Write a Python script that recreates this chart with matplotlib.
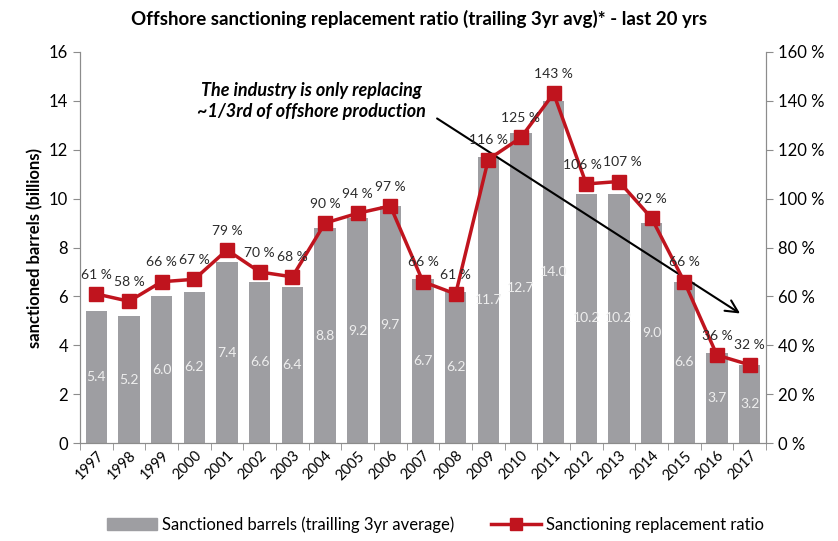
import matplotlib.pyplot as plt
import numpy as np
from matplotlib.lines import Line2D
from matplotlib.patches import Patch

plt.rcParams['font.family'] = ['Lato', 'DejaVu Sans']

anos = ['1997', '1998', '1999', '2000', '2001', '2002', '2003', '2004', '2005', '2006', '2007',
        '2008', '2009', '2010', '2011', '2012', '2013', '2014', '2015', '2016', '2017']
barris = [5.4, 5.2, 6.0, 6.2, 7.4, 6.6, 6.4, 8.8, 9.2, 9.7, 6.7,
          6.2, 11.7, 12.7, 14.0, 10.2, 10.2, 9.0, 6.6, 3.7, 3.2]
razao = [61, 58, 66, 67, 79, 70, 68, 90, 94, 97, 66,
         61, 116, 125, 143, 106, 107, 92, 66, 36, 32]

COR_BARRA = '#9e9ea2'
COR_LINHA = '#c0141e'
COR_EIXO = '#8c8c8c'

fig = plt.figure(figsize=(8.38, 5.41), dpi=100)
ax = fig.add_axes([0.0955, 0.181, 0.8185, 0.723])
ax2 = ax.twinx()

x = np.arange(len(anos))
ax.bar(x, barris, width=0.65, color=COR_BARRA, zorder=1)
for xi, v in zip(x, barris):
    ax.text(xi, v / 2, f'{v:.1f}', ha='center', va='center', color='#eeeeee', fontsize=10)

ax2.plot(x, razao, color=COR_LINHA, lw=2.5, marker='s', markersize=10, zorder=3)
# pequeno deslocamento para 2012/2013, rótulos colados
desloc = {15: -0.12, 16: 0.12}
for xi, r in zip(x, razao):
    ax2.text(xi + desloc.get(xi, 0), r + 5.5, f'{r} %', ha='center', va='bottom',
             color='#2a2a2a', fontsize=10)

ax.set_xlim(-0.5, len(anos) - 0.5)
ax.set_ylim(0, 16)
ax2.set_ylim(0, 160)
ax.set_yticks(range(0, 17, 2))
ax2.set_yticks(range(0, 161, 20))
ax2.set_yticklabels([f'{v} %' for v in range(0, 161, 20)])
ax.set_xticks(x)
ax.set_xticklabels(anos, rotation=45, ha='right', rotation_mode='anchor', fontsize=10.5)
ax.set_xticks(np.arange(-0.5, len(anos), 1), minor=True)
ax.tick_params(axis='x', which='major', length=0, pad=4)
ax.tick_params(axis='x', which='minor', length=5, color=COR_EIXO)
ax.tick_params(axis='y', labelsize=12, color=COR_EIXO, length=5)
ax2.tick_params(axis='y', labelsize=12, color=COR_EIXO, length=5)
ax.set_ylabel('sanctioned barrels (billions)', fontsize=12, fontweight='bold')

for a in (ax, ax2):
    a.spines['top'].set_visible(False)
    for s in ('left', 'right', 'bottom'):
        a.spines[s].set_color(COR_EIXO)

# seta e texto de destaque
ax.annotate('', xy=(19.78, 5.24), xytext=(10.36, 13.34),
            arrowprops=dict(arrowstyle='->', color='black', lw=1.5, mutation_scale=22))
ax.text(6.6, 14.0, 'The industry is only replacing\n~1/3rd of offshore production',
        ha='center', va='center', fontsize=13, fontweight='bold', style='italic',
        linespacing=1.3)

fig.text(0.5, 0.965, 'Offshore sanctioning replacement ratio (trailing 3yr avg)* - last 20 yrs',
         ha='center', va='center', fontsize=13.5, fontweight='bold')

handles = [Patch(color=COR_BARRA, label='Sanctioned barrels (trailling 3yr average)'),
           Line2D([], [], color=COR_LINHA, lw=2.5, marker='s', markersize=8,
                  label='Sanctioning replacement ratio')]
fig.legend(handles=handles, loc='center', bbox_to_anchor=(0.52, 0.03), ncol=2,
           frameon=False, fontsize=12, handlelength=3.0, handletextpad=0.3,
           columnspacing=2.2)

plt.savefig('out.png', dpi=100)
